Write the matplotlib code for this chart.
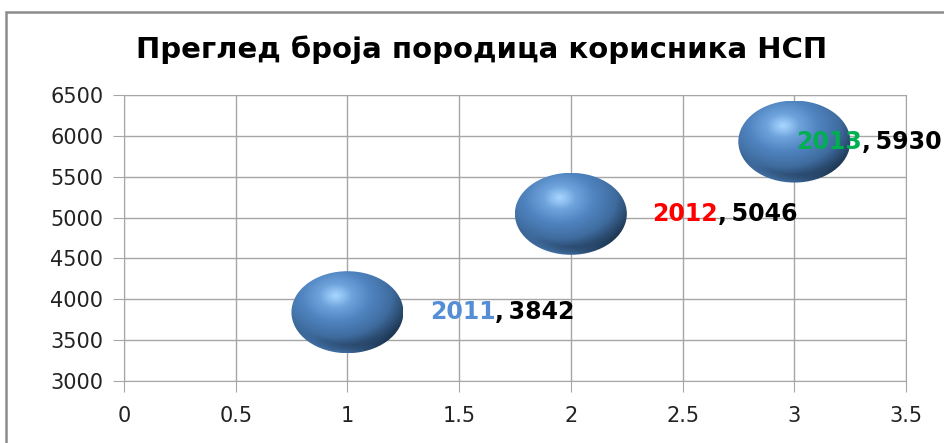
import numpy as np
import matplotlib
matplotlib.use("Agg")
import matplotlib.pyplot as plt
from matplotlib.patches import Ellipse, Rectangle
from matplotlib.colors import LinearSegmentedColormap

# data
godine = ["2011", "2012", "2013"]
x_vals = [1, 2, 3]
porodice = [3842, 5046, 5930]
boje_godina = ["#558ED5", "#FF0000", "#00B050"]

naslov = "Преглед броја породица корисника НСП"

# label offsets in pixels from bubble centre (where the comma starts)
label_dx = [148, 147, 68]

fig = plt.figure(figsize=(9.45, 4.43), dpi=100)
ax = fig.add_axes([124 / 945, 1 - 381 / 443, (906 - 124) / 945, (381 - 95) / 443])

# chart border
fig.patches.append(Rectangle((6 / 945, -0.2), 1.2, 1.2 - 12 / 443,
                             transform=fig.transFigure, fill=False,
                             edgecolor="#8C8C8C", linewidth=1.8))

grid_c = "#A6A6A6"
ax.set_xlim(0, 3.5)
ax.set_ylim(3000, 6500)
ax.set_xticks(np.arange(0, 3.51, 0.5))
ax.set_yticks(np.arange(3000, 6501, 500))
ax.set_xticklabels(["0", "0.5", "1", "1.5", "2", "2.5", "3", "3.5"])
ax.grid(True, color=grid_c, linewidth=1.0)
ax.set_axisbelow(True)
for s in ax.spines.values():
    s.set_color(grid_c)
ax.tick_params(direction="out", length=8, color=grid_c, labelsize=15,
               labelcolor="#222222", pad=7)
ax.tick_params(axis="x", pad=10)

# shaded sphere texture
cmap = LinearSegmentedColormap.from_list(
    "sfera", [(0, "#A6D6FF"), (0.15, "#6FA3DC"), (0.35, "#5084C0"),
              (0.6, "#3F6C9F"), (0.82, "#223D5C"), (1, "#0E1C2C")])
n = 220
u, v = np.meshgrid(np.linspace(-1, 1, n), np.linspace(1, -1, n))
d = np.sqrt((u + 0.2) ** 2 + (v - 0.4) ** 2)
tex = np.clip(d / 1.6, 0, 1) ** 1.1
r = np.sqrt(u ** 2 + v ** 2)
rim = np.clip((r - 0.8) / 0.2, 0, 1) * np.clip(-v - 0.4, 0, 1) * np.clip(1 - u, 0, 1)
tex = np.clip(tex - 0.45 * rim, 0, 1)

# bubble size in data units (from pixel size)
bw = 112 / 782 * 3.5
bh = 82 / 286 * 3500

for xv, yv in zip(x_vals, porodice):
    el = Ellipse((xv, yv), bw, bh, facecolor="none", edgecolor="none", zorder=3)
    ax.add_patch(el)
    im = ax.imshow(tex, cmap=cmap, vmin=0, vmax=1, aspect="auto",
                   extent=[xv - bw / 2, xv + bw / 2, yv - bh / 2, yv + bh / 2],
                   zorder=3, interpolation="bilinear")
    im.set_clip_path(el)

ax.set_xlim(0, 3.5)
ax.set_ylim(3000, 6500)

# data labels
for xv, yv, g, c, dx in zip(x_vals, porodice, godine, boje_godina, label_dx):
    ax.annotate(g, (xv, yv), xytext=(dx, 0), textcoords="offset pixels",
                ha="right", va="center", color=c, fontsize=17,
                fontweight="bold", zorder=5, annotation_clip=False)
    ax.annotate(",\u2009" + str(yv), (xv, yv), xytext=(dx, 0), textcoords="offset pixels",
                ha="left", va="center", color="black", fontsize=17,
                fontweight="bold", zorder=5, annotation_clip=False)

fig.text(482 / 945, 1 - 50 / 443, naslov, ha="center", va="center",
         fontsize=21, fontweight="bold", color="black")

fig.savefig("out.png", dpi=100)
